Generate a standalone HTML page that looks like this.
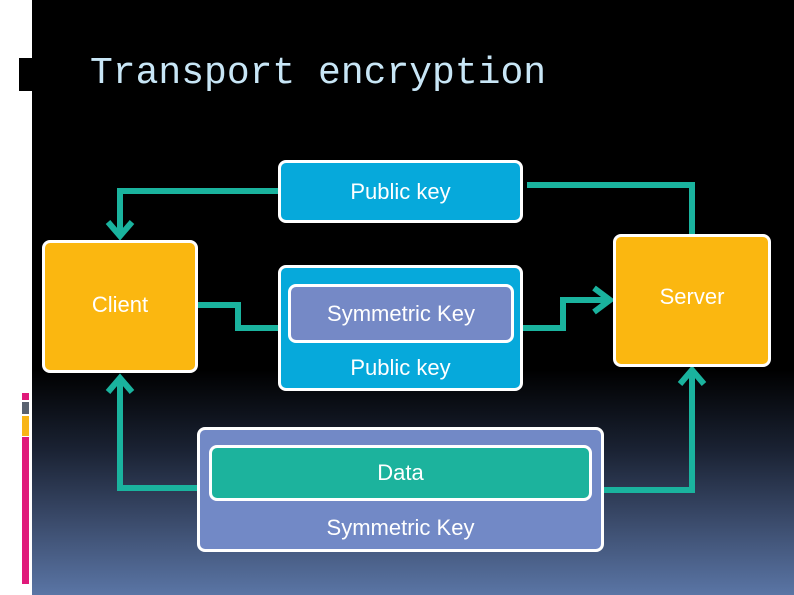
<!DOCTYPE html>
<html><head><style>
body{margin:0;width:794px;height:595px;overflow:hidden;background:#fff;position:relative;font-family:"Liberation Sans",sans-serif}
.bg{position:absolute;left:32px;top:0;width:762px;height:595px;background:linear-gradient(to bottom,#000 0px,#000 370px,#1a2233 450px,#3a4a6a 520px,#5a75a5 595px)}
.b{position:absolute;box-sizing:border-box;border:3px solid #fff;border-radius:8px;color:#fff;font-size:22px;display:flex;align-items:center;justify-content:center}
.t{position:absolute;color:#fff;font-size:22px;text-align:center}
</style></head><body>
<div class="bg"></div>
<div style="position:absolute;left:19px;top:58px;width:13px;height:33px;background:#000"></div>
<div style="position:absolute;left:22px;top:393px;width:7px;height:7px;background:#e0197a"></div>
<div style="position:absolute;left:22px;top:402px;width:7px;height:12px;background:#5a6270"></div>
<div style="position:absolute;left:22px;top:416px;width:7px;height:20px;background:#f8b515"></div>
<div style="position:absolute;left:22px;top:437px;width:7px;height:147px;background:#e0197a"></div>
<div style="position:absolute;left:90px;top:52px;font-family:'Liberation Mono',monospace;font-size:38px;color:#c8e6f6">Transport encryption</div>
<svg style="position:absolute;left:0;top:0" width="794" height="595">
<g fill="none" stroke="#1ab39e" stroke-width="6">
<path d="M278 191 H120 V236"/><path d="M108 222 L120 236 L132 222"/>
<path d="M527 185 H692 V236"/>
<path d="M197 305 H238 V328 H280"/>
<path d="M520 328 H563 V300 H610"/><path d="M594 288 L610 300 L594 312"/>
<path d="M199 488 H120 V378"/><path d="M108 392 L120 378 L132 392"/>
<path d="M601 490 H692 V370"/><path d="M680 384 L692 370 L704 384"/>
</g></svg>
<div class="b" style="left:278px;top:160px;width:245px;height:63px;background:#06a9db">Public key</div>
<div class="b" style="left:42px;top:240px;width:156px;height:133px;background:#fbb710;padding-bottom:4px">Client</div>
<div class="b" style="left:613px;top:234px;width:158px;height:133px;background:#fbb710;padding-bottom:8px">Server</div>
<div class="b" style="left:278px;top:265px;width:245px;height:126px;background:#06a9db"></div>
<div class="b" style="left:288px;top:284px;width:226px;height:59px;background:#7589c6">Symmetric Key</div>
<div class="t" style="left:278px;top:355px;width:245px">Public key</div>
<div class="b" style="left:197px;top:427px;width:407px;height:125px;background:#7289c6"></div>
<div class="b" style="left:209px;top:445px;width:383px;height:56px;background:#1cb39d">Data</div>
<div class="t" style="left:197px;top:515px;width:407px">Symmetric Key</div>
</body></html>
